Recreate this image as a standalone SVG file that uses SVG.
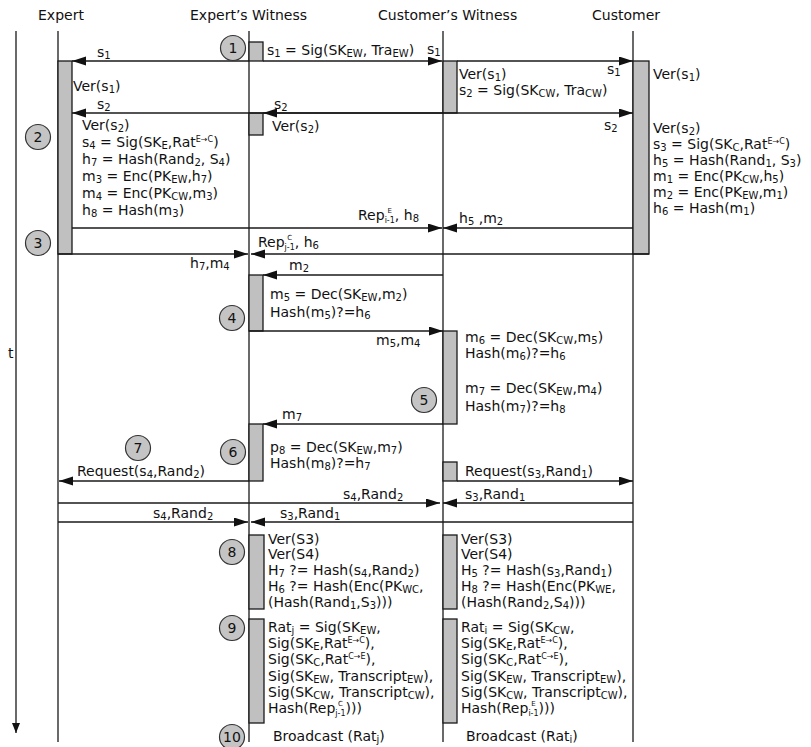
<svg xmlns="http://www.w3.org/2000/svg" width="811" height="747" viewBox="0 0 811 747">
<style>
text{font-family:"DejaVu Sans",Verdana,"Liberation Sans",sans-serif;font-size:14px;fill:#111}
.s{font-size:10px;baseline-shift:-2px}
.p{font-size:8px;baseline-shift:5px}
.pp{font-size:7px;baseline-shift:7px}
.q{font-size:8px;baseline-shift:-3px}
.ln{stroke:#1a1a1a;stroke-width:1.3;fill:none}
.ar{stroke:#1a1a1a;stroke-width:1.3;fill:none;marker-end:url(#ah)}
.bx{fill:#c0c0c0;stroke:#1a1a1a;stroke-width:1.3}
.c{fill:#c4c4c4;stroke:#333;stroke-width:1.2}
.n{text-anchor:middle}
</style>
<defs>
<marker id="ah" markerUnits="userSpaceOnUse" markerWidth="14" markerHeight="10" refX="14" refY="4.5" orient="auto"><path d="M0,0 L14,4.5 L0,9 z" fill="#111"/></marker>
<marker id="th" markerUnits="userSpaceOnUse" markerWidth="10" markerHeight="10" refX="10" refY="4" orient="auto"><path d="M0,0 L10,4 L0,8 z" fill="#111"/></marker>
</defs>

<g id="headers">
<text x="38" y="20">Expert</text>
<text x="190" y="20">Expert’s Witness</text>
<text x="378" y="20">Customer’s Witness</text>
<text x="592" y="20">Customer</text>
<text x="8" y="358">t</text>
</g>

<g id="lifelines">
<line class="ln" x1="16" y1="31" x2="16" y2="733" style="marker-end:url(#th)"/>
<line class="ln" x1="58" y1="31" x2="58" y2="742"/>
<line class="ln" x1="249" y1="31" x2="249" y2="742"/>
<line class="ln" x1="443" y1="31" x2="443" y2="742"/>
<line class="ln" x1="633" y1="31" x2="633" y2="742"/>
</g>

<g id="activations">
<rect class="bx" x="58" y="61" width="14" height="193"/>
<rect class="bx" x="633" y="61" width="16" height="193"/>
<rect class="bx" x="249" y="42" width="14" height="19"/>
<rect class="bx" x="443" y="61" width="14" height="52"/>
<rect class="bx" x="249" y="113" width="14" height="22"/>
<rect class="bx" x="249" y="275" width="14" height="56"/>
<rect class="bx" x="443" y="331" width="14" height="93"/>
<rect class="bx" x="249" y="424" width="14" height="57"/>
<rect class="bx" x="443" y="462" width="14" height="19"/>
<rect class="bx" x="249" y="535" width="15" height="74"/>
<rect class="bx" x="443" y="535" width="14" height="74"/>
<rect class="bx" x="249" y="619" width="15" height="104"/>
<rect class="bx" x="443" y="619" width="14" height="104"/>
</g>

<g id="connectors">
<line class="ar" x1="249" y1="61" x2="72" y2="61"/>
<line class="ar" x1="263" y1="61" x2="442" y2="61"/>
<line class="ar" x1="457" y1="61" x2="633" y2="61"/>
<line class="ar" x1="443" y1="113" x2="72" y2="113"/>
<line class="ar" x1="443" y1="113" x2="263" y2="113"/>
<line class="ar" x1="443" y1="113" x2="633" y2="113"/>
<line class="ar" x1="72" y1="228" x2="442" y2="228"/>
<line class="ar" x1="633" y1="228" x2="443" y2="228"/>
<line class="ar" x1="58" y1="254" x2="248" y2="254"/>
<line class="ar" x1="649" y1="254" x2="251" y2="254"/>
<line class="ar" x1="443" y1="275" x2="263" y2="275"/>
<line class="ar" x1="249" y1="331" x2="443" y2="331"/>
<line class="ar" x1="443" y1="424" x2="263" y2="424"/>
<line class="ar" x1="249" y1="481" x2="59" y2="481"/>
<line class="ar" x1="457" y1="481" x2="633" y2="481"/>
<line class="ar" x1="58" y1="503" x2="440" y2="503"/>
<line class="ar" x1="633" y1="503" x2="443" y2="503"/>
<line class="ar" x1="58" y1="522" x2="248" y2="522"/>
<line class="ar" x1="633" y1="522" x2="251" y2="522"/>
</g>

<g id="steps">
<g id="step1"><circle class="c" cx="233" cy="48" r="12.5"/><text class="n" x="233" y="53">1</text></g>
<g id="step2"><circle class="c" cx="38" cy="137" r="12.5"/><text class="n" x="38" y="142">2</text></g>
<g id="step3"><circle class="c" cx="38" cy="243" r="12.5"/><text class="n" x="38" y="248">3</text></g>
<g id="step4"><circle class="c" cx="232" cy="318" r="12.5"/><text class="n" x="232" y="323">4</text></g>
<g id="step5"><circle class="c" cx="424" cy="400" r="12.5"/><text class="n" x="424" y="405">5</text></g>
<g id="step6"><circle class="c" cx="233" cy="452" r="12.5"/><text class="n" x="233" y="457">6</text></g>
<g id="step7"><circle class="c" cx="138" cy="448" r="12.5"/><text class="n" x="138" y="453">7</text></g>
<g id="step8"><circle class="c" cx="232" cy="552" r="12.5"/><text class="n" x="232" y="557">8</text></g>
<g id="step9"><circle class="c" cx="232" cy="628" r="12.5"/><text class="n" x="232" y="633">9</text></g>
<g id="step10"><circle class="c" cx="232" cy="737" r="12.5"/><text class="n" x="232" y="742">10</text></g>
</g>

<g id="labels">
<text x="97" y="57">s<tspan class="s">1</tspan></text>
<text x="267" y="55">s<tspan class="s">1</tspan> = Sig(SK<tspan class="s">EW</tspan>, Tra<tspan class="s">EW</tspan>)</text>
<text x="427" y="54">s<tspan class="s">1</tspan></text>
<text x="607" y="74">s<tspan class="s">1</tspan></text>
<text x="97" y="109">s<tspan class="s">2</tspan></text>
<text x="274" y="109">s<tspan class="s">2</tspan></text>
<text x="604" y="130">s<tspan class="s">2</tspan></text>
<text x="358" y="220">Rep<tspan class="pp" dx="2.9">E</tspan><tspan class="q" dx="-7.3">i-1</tspan>, h<tspan class="s">8</tspan></text>
<text x="459" y="223">h<tspan class="s">5</tspan> ,m<tspan class="s">2</tspan></text>
<text x="258" y="247">Rep<tspan class="pp" dx="2.7">C</tspan><tspan class="q" dx="-7.6">j-1</tspan>, h<tspan class="s">6</tspan></text>
<text x="190" y="268">h<tspan class="s">7</tspan>,m<tspan class="s">4</tspan></text>
<text x="289" y="270">m<tspan class="s">2</tspan></text>
<text x="376" y="345">m<tspan class="s">5</tspan>,m<tspan class="s">4</tspan></text>
<text x="282" y="419">m<tspan class="s">7</tspan></text>
<text x="77" y="476">Request(s<tspan class="s">4</tspan>,Rand<tspan class="s">2</tspan>)</text>
<text x="465" y="476">Request(s<tspan class="s">3</tspan>,Rand<tspan class="s">1</tspan>)</text>
<text x="343" y="499">s<tspan class="s">4</tspan>,Rand<tspan class="s">2</tspan></text>
<text x="465" y="499">s<tspan class="s">3</tspan>,Rand<tspan class="s">1</tspan></text>
<text x="153" y="518">s<tspan class="s">4</tspan>,Rand<tspan class="s">2</tspan></text>
<text x="280" y="518">s<tspan class="s">3</tspan>,Rand<tspan class="s">1</tspan></text>
</g>

<g id="expert-notes">
<text x="73" y="91">Ver(s<tspan class="s">1</tspan>)</text>
<text x="82" y="130">Ver(s<tspan class="s">2</tspan>)</text>
<text x="82" y="147">s<tspan class="s">4</tspan> = Sig(SK<tspan class="s">E</tspan>,Rat<tspan class="p">E→C</tspan>)</text>
<text x="82" y="164">h<tspan class="s">7</tspan> = Hash(Rand<tspan class="s">2</tspan>, S<tspan class="s">4</tspan>)</text>
<text x="82" y="181">m<tspan class="s">3</tspan> = Enc(PK<tspan class="s">EW</tspan>,h<tspan class="s">7</tspan>)</text>
<text x="82" y="198">m<tspan class="s">4</tspan> = Enc(PK<tspan class="s">CW</tspan>,m<tspan class="s">3</tspan>)</text>
<text x="82" y="215">h<tspan class="s">8</tspan> = Hash(m<tspan class="s">3</tspan>)</text>
</g>

<g id="customer-notes">
<text x="653" y="79">Ver(s<tspan class="s">1</tspan>)</text>
<text x="653" y="133">Ver(s<tspan class="s">2</tspan>)</text>
<text x="653" y="149">s<tspan class="s">3</tspan> = Sig(SK<tspan class="s">C</tspan>,Rat<tspan class="p">E→C</tspan>)</text>
<text x="653" y="165">h<tspan class="s">5</tspan> = Hash(Rand<tspan class="s">1</tspan>, S<tspan class="s">3</tspan>)</text>
<text x="653" y="181">m<tspan class="s">1</tspan> = Enc(PK<tspan class="s">CW</tspan>,h<tspan class="s">5</tspan>)</text>
<text x="653" y="197">m<tspan class="s">2</tspan> = Enc(PK<tspan class="s">EW</tspan>,m<tspan class="s">1</tspan>)</text>
<text x="653" y="213">h<tspan class="s">6</tspan> = Hash(m<tspan class="s">1</tspan>)</text>
</g>

<g id="ew-notes">
<text x="272" y="131">Ver(s<tspan class="s">2</tspan>)</text>
<text x="270" y="299">m<tspan class="s">5</tspan> = Dec(SK<tspan class="s">EW</tspan>,m<tspan class="s">2</tspan>)</text>
<text x="270" y="317">Hash(m<tspan class="s">5</tspan>)?=h<tspan class="s">6</tspan></text>
<text x="270" y="452">p<tspan class="s">8</tspan> = Dec(SK<tspan class="s">EW</tspan>,m<tspan class="s">7</tspan>)</text>
<text x="270" y="468">Hash(m<tspan class="s">8</tspan>)?=h<tspan class="s">7</tspan></text>
<text x="268" y="544">Ver(S3)</text>
<text x="268" y="559">Ver(S4)</text>
<text x="268" y="575">H<tspan class="s">7</tspan> ?= Hash(s<tspan class="s">4</tspan>,Rand<tspan class="s">2</tspan>)</text>
<text x="268" y="591">H<tspan class="s">6</tspan> ?= Hash(Enc(PK<tspan class="s">WC</tspan>,</text>
<text x="268" y="607">(Hash(Rand<tspan class="s">1</tspan>,S<tspan class="s">3</tspan>)))</text>
<text x="268" y="632">Rat<tspan class="s">j</tspan> = Sig(SK<tspan class="s">EW</tspan>,</text>
<text x="268" y="648">Sig(SK<tspan class="s">E</tspan>,Rat<tspan class="p">E→C</tspan>),</text>
<text x="268" y="664">Sig(SK<tspan class="s">C</tspan>,Rat<tspan class="p">C→E</tspan>),</text>
<text x="268" y="681">Sig(SK<tspan class="s">EW</tspan>, Transcript<tspan class="s">EW</tspan>),</text>
<text x="268" y="697">Sig(SK<tspan class="s">CW</tspan>, Transcript<tspan class="s">CW</tspan>),</text>
<text x="268" y="713">Hash(Rep<tspan class="pp" dx="2.7">C</tspan><tspan class="q" dx="-7.6">j-1</tspan>)))</text>
<text x="273" y="741">Broadcast (Rat<tspan class="s">j</tspan>)</text>
</g>

<g id="cw-notes">
<text x="459" y="79">Ver(s<tspan class="s">1</tspan>)</text>
<text x="459" y="95">s<tspan class="s">2</tspan> = Sig(SK<tspan class="s">CW</tspan>, Tra<tspan class="s">CW</tspan>)</text>
<text x="465" y="342">m<tspan class="s">6</tspan> = Dec(SK<tspan class="s">CW</tspan>,m<tspan class="s">5</tspan>)</text>
<text x="465" y="358">Hash(m<tspan class="s">6</tspan>)?=h<tspan class="s">6</tspan></text>
<text x="465" y="393">m<tspan class="s">7</tspan> = Dec(SK<tspan class="s">EW</tspan>,m<tspan class="s">4</tspan>)</text>
<text x="465" y="411">Hash(m<tspan class="s">7</tspan>)?=h<tspan class="s">8</tspan></text>
<text x="461" y="544">Ver(S3)</text>
<text x="461" y="559">Ver(S4)</text>
<text x="461" y="575">H<tspan class="s">5</tspan> ?= Hash(s<tspan class="s">3</tspan>,Rand<tspan class="s">1</tspan>)</text>
<text x="461" y="591">H<tspan class="s">8</tspan> ?= Hash(Enc(PK<tspan class="s">WE</tspan>,</text>
<text x="461" y="607">(Hash(Rand<tspan class="s">2</tspan>,S<tspan class="s">4</tspan>)))</text>
<text x="461" y="632">Rat<tspan class="s">i</tspan> = Sig(SK<tspan class="s">CW</tspan>,</text>
<text x="461" y="648">Sig(SK<tspan class="s">E</tspan>,Rat<tspan class="p">E→C</tspan>),</text>
<text x="461" y="664">Sig(SK<tspan class="s">C</tspan>,Rat<tspan class="p">C→E</tspan>),</text>
<text x="461" y="681">Sig(SK<tspan class="s">EW</tspan>, Transcript<tspan class="s">EW</tspan>),</text>
<text x="461" y="697">Sig(SK<tspan class="s">CW</tspan>, Transcript<tspan class="s">CW</tspan>),</text>
<text x="461" y="713">Hash(Rep<tspan class="pp" dx="2.9">E</tspan><tspan class="q" dx="-7.3">i-1</tspan>)))</text>
<text x="466" y="741">Broadcast (Rat<tspan class="s">i</tspan>)</text>
</g>
</svg>
